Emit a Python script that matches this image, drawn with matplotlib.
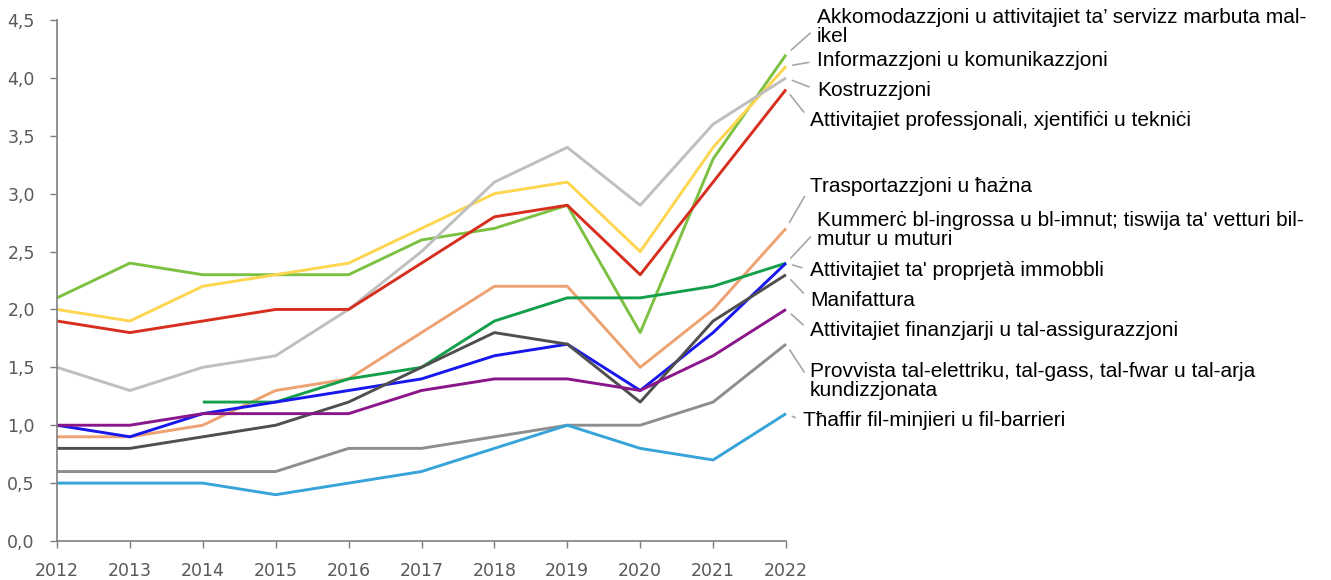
import numpy as np
import matplotlib
matplotlib.use('Agg')
import matplotlib.pyplot as plt

years = list(range(2012, 2023))

akkomodazzjoni = [2.1, 2.4, 2.3, 2.3, 2.3, 2.6, 2.7, 2.9, 1.8, 3.3, 4.2]
informazzjoni = [2.0, 1.9, 2.2, 2.3, 2.4, 2.7, 3.0, 3.1, 2.5, 3.4, 4.1]
kostruzzjoni = [1.5, 1.3, 1.5, 1.6, 2.0, 2.5, 3.1, 3.4, 2.9, 3.6, 4.0]
professjonali = [1.9, 1.8, 1.9, 2.0, 2.0, 2.4, 2.8, 2.9, 2.3, 3.1, 3.9]
trasportazzjoni = [0.9, 0.9, 1.0, 1.3, 1.4, 1.8, 2.2, 2.2, 1.5, 2.0, 2.7]
kummerc = [np.nan, np.nan, 1.2, 1.2, 1.4, 1.5, 1.9, 2.1, 2.1, 2.2, 2.4]
immobbli = [1.0, 0.9, 1.1, 1.2, 1.3, 1.4, 1.6, 1.7, 1.3, 1.8, 2.4]
manifattura = [0.8, 0.8, 0.9, 1.0, 1.2, 1.5, 1.8, 1.7, 1.2, 1.9, 2.3]
finanzjarji = [1.0, 1.0, 1.1, 1.1, 1.1, 1.3, 1.4, 1.4, 1.3, 1.6, 2.0]
provvista = [0.6, 0.6, 0.6, 0.6, 0.8, 0.8, 0.9, 1.0, 1.0, 1.2, 1.7]
thaffir = [0.5, 0.5, 0.5, 0.4, 0.5, 0.6, 0.8, 1.0, 0.8, 0.7, 1.1]

labels = [
    'Akkomodazzjoni u attivitajiet ta’ servizz marbuta mal-\nikel',
    'Informazzjoni u komunikazzjoni',
    'Kostruzzjoni',
    'Attivitajiet professjonali, xjentifiċi u tekniċi',
    'Trasportazzjoni u ħażna',
    "Kummerċ bl-ingrossa u bl-imnut; tiswija ta' vetturi bil-\nmutur u muturi",
    "Attivitajiet ta' proprjetà immobbli",
    'Manifattura',
    'Attivitajiet finanzjarji u tal-assigurazzjoni',
    'Provvista tal-elettriku, tal-gass, tal-fwar u tal-arja\nkundizzjonata',
    'Tħaffir fil-minjieri u fil-barrieri',
]

series = [akkomodazzjoni, informazzjoni, kostruzzjoni, professjonali, trasportazzjoni,
          kummerc, immobbli, manifattura, finanzjarji, provvista, thaffir]
colors = ['#7cc142', '#fdd54e', '#bfbfbf', '#d62f1f', '#eea272', '#14a04b',
          '#1717ee', '#4f4f4f', '#8a168a', '#8e8e8e', '#36a4d8']

# label positions (figure pixels: left x, centre y from top)
label_pos = [(817, 27), (817, 61), (817, 90), (810, 120), (810, 187), (817, 230),
             (810, 270), (810, 300), (810, 331), (810, 381), (803, 421)]

fig = plt.figure(figsize=(13.31, 5.8), dpi=100)
ax = fig.add_axes([57 / 1331, 39 / 580, 729 / 1331, 521 / 580])

for vals, c in zip(series, colors):
    ax.plot(years, vals, color=c, lw=2.1, solid_capstyle='butt', clip_on=False)

for vals, lab, (px, py) in zip(series, labels, label_pos):
    ax.annotate(lab, xy=(2022, vals[-1]), xycoords='data',
                xytext=(px, 580 - py), textcoords='figure pixels',
                ha='left', va='center', fontsize=15, family='Liberation Sans',
                color='black', linespacing=0.95,
                arrowprops=dict(arrowstyle='-', color='#a6a6a6', lw=1.2,
                                relpos=(0, 0.5), shrinkA=4, shrinkB=5))

ax.set_xlim(2012, 2022)
ax.set_ylim(0, 4.5)
ax.set_xticks(years)
ax.set_yticks(np.arange(0, 4.51, 0.5))
ax.set_yticklabels([f'{v:.1f}'.replace('.', ',') for v in np.arange(0, 4.51, 0.5)])
for s in ['top', 'right']:
    ax.spines[s].set_visible(False)
for s in ['left', 'bottom']:
    ax.spines[s].set_color('#7f7f7f')
    ax.spines[s].set_linewidth(1.2)
ax.tick_params(axis='both', colors='#7f7f7f', labelcolor='#595959', labelsize=12.5,
               length=5, width=1.0)
ax.tick_params(axis='x', pad=10)
ax.tick_params(axis='y', pad=11)

fig.savefig('out.png', dpi=100)
